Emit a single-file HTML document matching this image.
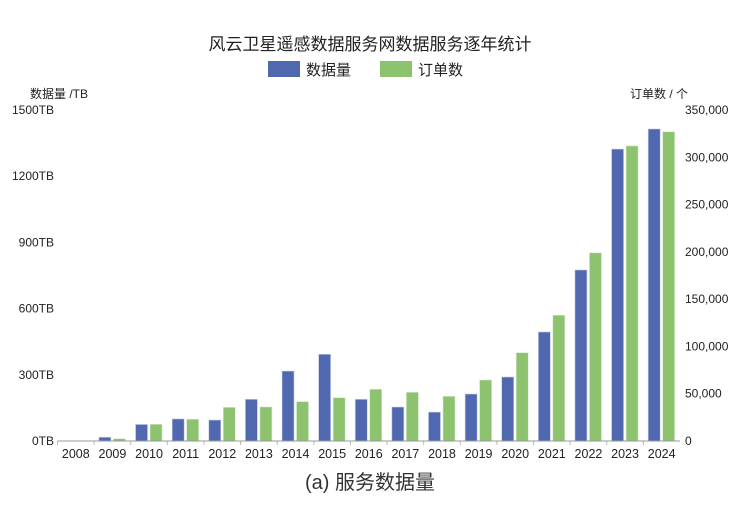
<!DOCTYPE html>
<html><head><meta charset="utf-8"><style>
body{margin:0;background:#fff;width:740px;height:500px;overflow:hidden;font-family:"Liberation Sans","Noto Sans CJK SC",sans-serif}
</style></head><body>
<svg id="c" width="740" height="500" font-family="Liberation Sans, Noto Sans CJK SC, sans-serif">
<text x="370" y="50" text-anchor="middle" font-size="17" fill="#222">风云卫星遥感数据服务网数据服务逐年统计</text>
<rect x="268" y="61" width="32" height="16" fill="#4f68b0"/>
<text x="306" y="75" font-size="15" fill="#222">数据量</text>
<rect x="380" y="61" width="32" height="16" fill="#8dc26f"/>
<text x="418" y="75" font-size="15" fill="#222">订单数</text>
<text x="30" y="98" font-size="12" fill="#222">数据量 /TB</text>
<text x="630" y="98" font-size="12" fill="#222">订单数 / 个</text>
<text x="370" y="489" text-anchor="middle" font-size="20" fill="#333">(a) 服务数据量</text>
<g id="g"></g>
</svg>
<script>
const years=["2008","2009","2010","2011","2012","2013","2014","2015","2016","2017","2018","2019","2020","2021","2022","2023","2024"];
const dataTB=[0,17,75,100,95,189,317,393,189,154,131,213,290,494,775,1323,1414];
const orders=[0,2400,17700,23000,35600,36000,41600,45800,54700,51500,47300,64500,93400,133000,199000,312000,327000];
const leftTicks=[0,300,600,900,1200,1500];
const rightTicks=[0,50000,100000,150000,200000,250000,300000,350000];
const NS="http://www.w3.org/2000/svg",g=document.getElementById('g');
const x0=57.5,x1=680,y0=441,y1=110,step=(x1-x0)/years.length;
const yL=v=>y0-(v/1500)*(y0-y1), yR=v=>y0-(v/350000)*(y0-y1);
function mk(t,a){const e=document.createElementNS(NS,t);for(const k in a)e.setAttribute(k,a[k]);g.appendChild(e);return e;}
years.forEach((yr,i)=>{
 const cx=x0+step*(i+0.5);
 const b=mk('rect',{x:cx-13.5,y:yL(dataTB[i]),width:12,height:y0-yL(dataTB[i]),fill:'#4f68b0',stroke:'#c8d0e8','stroke-width':0.6});
 
 
 const o=mk('rect',{x:cx+1,y:yR(orders[i]),width:12,height:y0-yR(orders[i]),fill:'#8dc26f',stroke:'#d6ead0','stroke-width':0.6});
 
 
 const t=mk('text',{x:cx,y:458,'text-anchor':'middle','font-size':12.5,fill:'#222'});t.textContent=yr;
 
 
 const tk=mk('line',{x1:x0+step*i,x2:x0+step*i,y1:y0,y2:y0+4,stroke:'#bbb'});
 
 
});
const ax=mk('line',{x1:x0,x2:x1,y1:y0,y2:y0,stroke:'#999'});


leftTicks.forEach(v=>{const t=mk('text',{x:54,y:yL(v)+4,'text-anchor':'end','font-size':12,fill:'#222'});t.textContent=v+'TB';
 
 });
rightTicks.forEach(v=>{const t=mk('text',{x:685,y:yR(v)+4,'font-size':12,fill:'#222'});t.textContent=v.toLocaleString('en-US');
 
 });
</script>
</body></html>
